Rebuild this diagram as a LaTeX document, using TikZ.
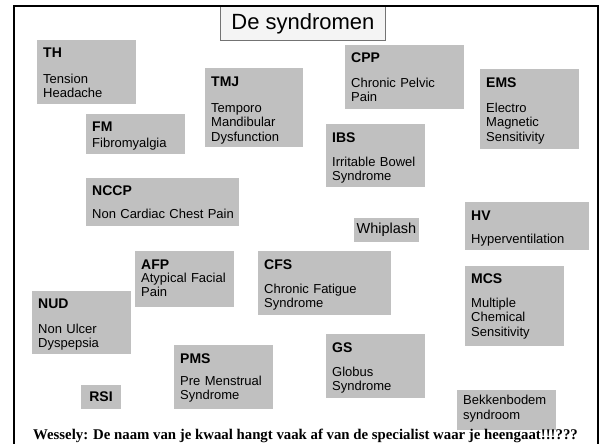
\documentclass[tikz,border=0pt]{standalone}
\usepackage{fontspec}
\setmainfont{Liberation Sans}
\newfontfamily\timesfont{Liberation Serif}
\definecolor{boxgray}{HTML}{C0C0C0}
\definecolor{titlefill}{HTML}{F4F4F4}
\begin{document}
\begin{tikzpicture}[x=1pt,y=-1pt,
  box/.style={fill=boxgray, draw=none, inner sep=0pt, outer sep=0pt, anchor=north west},
  head/.style={font=\fontsize{14}{16}\selectfont\bfseries, inner sep=0pt, anchor=base west},
  body/.style={font=\fontsize{13}{14.5}\selectfont, inner sep=0pt, anchor=base west, align=left, text width=150pt},
  ]
\useasboundingbox (0,0) rectangle (602,444);
\clip (0,0) rectangle (602,444);
% title
\node[fill=titlefill, draw=black!55, line width=0.8pt, minimum width=165pt, minimum height=34pt, inner sep=0pt, anchor=north west,
      font=\fontsize{22}{24}\selectfont] (title) at (220,6) {De syndromen};
% TH
\node[box, minimum width=99pt, minimum height=64pt] (th) at (37,40) {};
\node[head] (thh) at ([shift={(6,17)}]th.north west) {TH};
\node[body] (thb) at ([shift={(6,43)}]th.north west) {Tension\\Headache};
% FM
\node[box, minimum width=99pt, minimum height=40pt] (fm) at (86,114) {};
\node[head] (fmh) at ([shift={(6,17)}]fm.north west) {FM};
\node[body] (fmb) at ([shift={(6,33)}]fm.north west) {Fibromyalgia};
% TMJ
\node[box, minimum width=98pt, minimum height=79pt] (tmj) at (205,68) {};
\node[head] (tmjh) at ([shift={(6,18)}]tmj.north west) {TMJ};
\node[body] (tmjb) at ([shift={(6,44)}]tmj.north west) {Temporo\\Mandibular\\Dysfunction};
% CPP
\node[box, minimum width=119pt, minimum height=64pt] (cpp) at (345,45) {};
\node[head] (cpph) at ([shift={(6,18)}]cpp.north west) {CPP};
\node[body] (cppb) at ([shift={(6,42)}]cpp.north west) {Chronic Pelvic\\Pain};
% EMS
\node[box, minimum width=99pt, minimum height=80pt] (ems) at (480,69) {};
\node[head] (emsh) at ([shift={(6,18)}]ems.north west) {EMS};
\node[body] (emsb) at ([shift={(6,43)}]ems.north west) {Electro\\Magnetic\\Sensitivity};
% IBS
\node[box, minimum width=99pt, minimum height=63pt] (ibs) at (326,124) {};
\node[head] (ibsh) at ([shift={(6,18)}]ibs.north west) {IBS};
\node[body] (ibsb) at ([shift={(6,42)}]ibs.north west) {Irritable Bowel\\Syndrome};
% NCCP
\node[box, minimum width=153pt, minimum height=48pt] (nccp) at (86,178) {};
\node[head] (nccph) at ([shift={(6,17)}]nccp.north west) {NCCP};
\node[body] (nccpb) at ([shift={(6,40)}]nccp.north west) {Non Cardiac Chest Pain};
% Whiplash
\node[box, anchor=center, minimum width=65pt, minimum height=24pt, font=\fontsize{14.5}{16}\selectfont] (wh) at (386.5,230) {Whiplash};
% HV
\node[box, minimum width=124pt, minimum height=48pt] (hv) at (465,202) {};
\node[head] (hvh) at ([shift={(6,18)}]hv.north west) {HV};
\node[body] (hvb) at ([shift={(6,41)}]hv.north west) {Hyperventilation};
% AFP
\node[box, minimum width=99pt, minimum height=56pt] (afp) at (135,251) {};
\node[head] (afph) at ([shift={(6,18)}]afp.north west) {AFP};
\node[body] (afpb) at ([shift={(6,31)}]afp.north west) {Atypical Facial\\Pain};
% CFS
\node[box, minimum width=133pt, minimum height=64pt] (cfs) at (258,251) {};
\node[head] (cfsh) at ([shift={(6,18)}]cfs.north west) {CFS};
\node[body] (cfsb) at ([shift={(6,42)}]cfs.north west) {Chronic Fatigue\\Syndrome};
% NUD
\node[box, minimum width=99pt, minimum height=63pt] (nud) at (32,291) {};
\node[head] (nudh) at ([shift={(6,17)}]nud.north west) {NUD};
\node[body] (nudb) at ([shift={(6,42)}]nud.north west) {Non Ulcer\\Dyspepsia};
% MCS
\node[box, minimum width=99pt, minimum height=80pt] (mcs) at (465,266) {};
\node[head] (mcsh) at ([shift={(6,17)}]mcs.north west) {MCS};
\node[body] (mcsb) at ([shift={(6,41)}]mcs.north west) {Multiple\\Chemical\\Sensitivity};
% PMS
\node[box, minimum width=99pt, minimum height=64pt] (pms) at (174,345) {};
\node[head] (pmsh) at ([shift={(6,18)}]pms.north west) {PMS};
\node[body] (pmsb) at ([shift={(6,40)}]pms.north west) {Pre Menstrual\\Syndrome};
% RSI
\node[box, anchor=center, minimum width=40pt, minimum height=24pt, font=\fontsize{14}{16}\selectfont\bfseries] (rsi) at (101,397) {RSI};
% GS
\node[box, minimum width=99pt, minimum height=64pt] (gs) at (326,334) {};
\node[head] (gsh) at ([shift={(6,18)}]gs.north west) {GS};
\node[body] (gsb) at ([shift={(6,42)}]gs.north west) {Globus\\Syndrome};
% Bekkenbodem
\node[box, minimum width=99pt, minimum height=40pt] (bek) at (457,390) {};
\node[body, font=\fontsize{13}{15.5}\selectfont] (bekb) at ([shift={(6,14)}]bek.north west) {Bekkenbodem\\syndroom};
% bottom note
\node[font=\timesfont\bfseries\fontsize{14.8}{16}\selectfont, anchor=base, inner sep=0pt] (note) at (305.5,439)
  {Wessely: De naam van je kwaal hangt vaak af van de specialist waar je heengaat!!!???};
% frame
\draw[line width=2.5pt] (14,470) -- (14,6) -- (598,6) -- (598,470);
\end{tikzpicture}
\end{document}
